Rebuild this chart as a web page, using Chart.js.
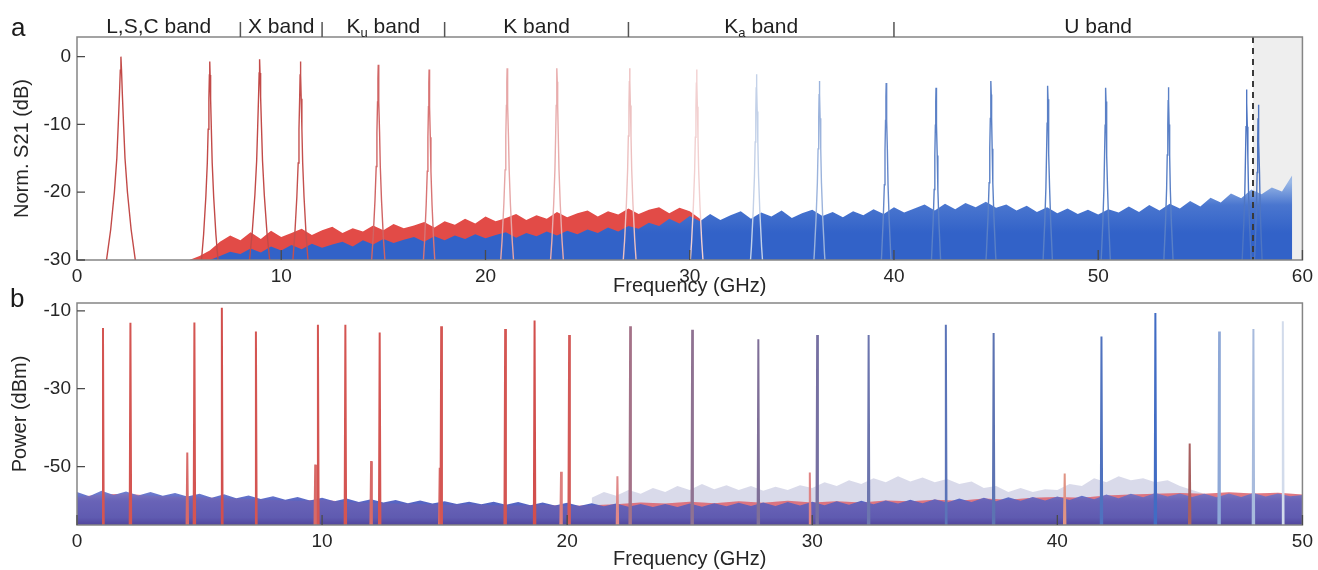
<!DOCTYPE html>
<html lang="en">
<head>
<meta charset="UTF-8">
<title>Norm. S21 and output power spectra</title>
<script src="https://cdn.jsdelivr.net/npm/chart.js"></script>
<style>
  body { margin: 0; background: #fff; }
  .wrap { position: relative; width: 1318px; height: 570px; overflow: hidden; }
  canvas { position: absolute; left: 0; }
  #chartA { top: 0; }
  #chartB { top: 280px; }
</style>
</head>
<body>
<div class="wrap">
  <canvas id="chartA" width="1318" height="300"></canvas>
  <canvas id="chartB" width="1318" height="290"></canvas>
</div>
<script>
// ---------- panel a : Norm. S21 (dB) ----------
const s21XTicks = [0, 10, 20, 30, 40, 50, 60];
const s21YTicks = [-30, -20, -10, 0];

// resonance peaks (GHz, dB at top, relative width)
const s21PeakFreq = [2.15, 6.50, 8.94, 10.94, 14.75, 17.24, 21.06, 23.5, 27.06, 30.34,
                     33.27, 36.35, 39.62, 42.06, 44.75, 47.53, 50.37, 53.44, 57.27, 57.84];
const s21PeakTop = [0, -0.7, -0.4, -0.7, -1.2, -1.9, -1.7, -1.7, -1.7, -1.9,
                    -2.6, -3.6, -3.9, -4.6, -3.6, -4.3, -4.6, -4.5, -4.85, -7.1];
const s21PeakWidth = [1, 0.6, 0.72, 0.55, 0.5, 0.45, 0.5, 0.5, 0.5, 0.5,
                      0.5, 0.5, 0.45, 0.45, 0.45, 0.45, 0.45, 0.45, 0.45, 0.45];
const s21PeakColor = ['#c24a48', '#c24a48', '#c24a48', '#c4504e', '#d06464', '#d87474', '#e6a6a6', '#e8acac',
                      '#edc0c0', '#f2d0d0', '#c3d1e8', '#9bb3dc', '#6587c9', '#5a80c6', '#5a80c6', '#5a80c6',
                      '#5a80c6', '#5a80c6', '#4f76c2', '#4f76c2'];
const peakOffset = [-0.75, -0.5, -0.32, -0.2, -0.13, -0.07, -0.03, 0, 0.03, 0.07, 0.13, 0.2, 0.32, 0.5, 0.75];
const peakDrop = [-31, -25.5, -20, -15, -10, -5.5, -2, 0, -2, -5.5, -10, -15, -20, -25.5, -31];

// noise floors, 0.5 GHz apart
const noiseStep = 0.5;
const redNoiseStart = 5.5;
const redNoise = [-30.0, -29.4, -28.6, -27.3, -26.4, -27.1, -25.9, -26.9, -25.7, -26.6,
                  -26.0, -25.4, -26.3, -25.6, -25.1, -26.0, -25.3, -25.8, -24.9, -25.6,
                  -24.7, -25.3, -24.9, -24.4, -25.2, -24.3, -24.8, -23.9, -24.6, -23.6,
                  -24.3, -23.8, -23.2, -24.1, -23.4, -23.9, -22.9, -23.7, -23.1, -22.7,
                  -23.6, -22.8, -23.3, -22.4, -23.2, -22.6, -22.2, -23.1, -22.3, -22.8,
                  -23.9, -27.0];
const blueNoiseStart = 6.5;
const blueNoise = [-30.0, -29.4, -28.8, -29.1, -28.3, -28.9, -28.0, -28.6, -27.8, -28.4,
                   -27.6, -28.2, -27.7, -27.3, -28.0, -27.1, -27.7, -26.9, -27.5, -27.0,
                   -26.6, -27.3, -26.5, -27.1, -26.4, -26.9, -26.2, -26.8, -26.3, -25.9,
                   -26.7, -26.0, -26.5, -25.8, -26.4, -25.7, -26.2, -25.5, -26.0, -25.2,
                   -25.8, -25.0, -25.4, -24.5, -25.0, -23.9, -24.6, -23.5, -24.3, -23.2,
                   -24.1, -23.4, -22.8, -23.9, -23.0, -23.6, -22.7, -23.8, -23.1, -22.6,
                   -23.5, -22.9, -23.7, -22.8, -23.4, -22.5, -23.2, -22.2, -23.0, -22.4,
                   -21.8, -22.7, -21.7, -22.5, -21.6, -22.2, -21.4, -22.3, -21.8, -22.7,
                   -22.0, -22.9, -22.2, -23.1, -22.4, -23.2, -22.6, -23.3, -22.5, -23.0,
                   -22.1, -22.9, -21.9, -22.7, -21.7, -22.4, -21.3, -22.1, -20.8, -21.5,
                   -20.2, -20.9, -19.6, -20.3, -19.3, -19.9, -17.5];

// microwave bands above panel a
const bandEdges = [8, 12, 18, 27, 40];
const bandCenter = [4, 10, 15, 22.5, 33.5, 50];
const bandMain = ['L,S,C', 'X', 'K', 'K', 'K', 'U'];
const bandSub = ['', '', 'u', '', 'a', ''];
const cutoffFreq = 57.58;

// ---------- panel b : Power (dBm) ----------
const pwrXTicks = [0, 10, 20, 30, 40, 50];
const pwrYTicks = [-50, -30, -10];

const pwrLineFreq = [1.06, 2.18, 4.5, 4.79, 5.91, 7.3, 9.72, 9.83, 10.95, 12.0, 12.35, 14.8, 14.86,
                     17.47, 18.67, 19.75, 20.08, 22.05, 22.57, 25.1, 27.8, 29.9, 30.2, 32.3, 35.45,
                     37.4, 40.3, 41.8, 44.0, 45.4, 46.6, 48.0, 49.2];
const pwrLineTop = [-14.4, -13.1, -46.4, -13.0, -9.2, -15.3, -49.5, -13.6, -13.6, -48.6, -15.6, -50.3, -14.0,
                    -14.7, -12.5, -51.3, -16.2, -52.5, -14.0, -14.9, -17.3, -51.5, -16.2, -16.2, -13.6,
                    -15.7, -51.8, -16.6, -10.6, -44.1, -15.3, -14.7, -12.7];
const pwrLineColor = ['#d45552', '#d45552', '#d86a68', '#d45552', '#d24f4d', '#d45552', '#d86a68', '#d45552',
                      '#d45552', '#d86a68', '#d45552', '#d86a68', '#d45552', '#d45552', '#d24f4d', '#de7f7e',
                      '#d45a58', '#e08888', '#a47288', '#8f7292', '#7f6f98', '#e08484', '#7670a2', '#6c75ae',
                      '#5b74b8', '#5c73b2', '#e09484', '#4f72bf', '#416cc4', '#a86060', '#8ea8d7', '#a8bbdd',
                      '#d2dbeb'];
const spikeOffset = [-0.03, 0, 0.03];

const floorStart = 0;
const floorBlue = [-56.5, -57.6, -56.2, -57.3, -56.4, -57.4, -56.5, -57.5, -56.8, -57.7,
                   -57.0, -58.0, -57.1, -58.1, -57.4, -58.3, -57.6, -58.5, -57.8, -58.7,
                   -58.0, -58.9, -58.2, -59.1, -58.4, -59.2, -58.6, -59.4, -58.7, -59.5,
                   -58.9, -59.6, -59.0, -59.7, -59.0, -59.8, -59.1, -59.9, -59.2, -60.0,
                   -59.3, -60.1, -59.4, -60.2, -59.5, -60.3, -59.6, -60.4, -59.6, -60.4,
                   -59.5, -60.3, -59.4, -60.2, -59.3, -60.1, -59.2, -60.1, -59.1, -60.0,
                   -59.0, -59.9, -58.9, -59.8, -58.8, -59.7, -58.7, -59.5, -58.5, -59.4,
                   -58.4, -59.2, -58.2, -59.1, -58.0, -58.9, -57.9, -58.8, -57.8, -58.7,
                   -57.7, -58.6, -57.5, -58.4, -57.2, -58.1, -57.0, -57.9, -56.8, -57.7,
                   -56.9, -57.8, -57.0, -57.9, -56.9, -57.8, -56.8, -57.7, -56.9, -57.6,
                   -57.3];
const floorRedStep = 1;
const floorRed = [-57.8, -57.2, -57.0, -57.5, -57.7, -57.9, -58.1, -58.3, -58.6, -58.8,
                  -58.5, -59.1, -59.3, -59.5, -59.6, -59.8, -59.7, -59.9, -60.0, -59.8,
                  -60.1, -59.9, -59.7, -59.2, -59.5, -59.0, -59.4, -58.9, -59.3, -58.8,
                  -59.2, -58.9, -59.2, -58.7, -58.9, -58.5, -58.8, -58.2, -58.5, -58.0,
                  -57.8, -58.0, -57.4, -57.2, -57.0, -56.8, -57.0, -56.6, -56.9, -56.7,
                  -57.2];
const greyStart = 21;
const greyNoise = [-58.0, -56.5, -57.5, -56.0, -57.0, -55.5, -56.5, -55.0, -56.0, -54.5,
                   -55.8, -54.8, -56.0, -55.0, -56.2, -55.2, -56.0, -54.8, -55.5, -54.0,
                   -55.0, -53.5, -54.5, -53.0, -54.0, -52.5, -53.8, -52.8, -54.0, -53.2,
                   -54.5, -53.8, -55.5, -55.0, -56.5, -55.5, -56.5, -55.8, -56.0, -54.5,
                   -55.0, -53.0, -54.0, -52.5, -53.5, -53.0, -54.0, -53.5, -55.0, -56.0,
                   -57.0, -57.5, -58.0];

// ---------- helpers ----------
Chart.defaults.font.family = "'Liberation Sans', Arial, sans-serif";
Chart.defaults.color = '#262626';
const FONT = "'Liberation Sans', Arial, sans-serif";

function series(start, step, vals) {
  return vals.map((v, i) => ({ x: start + i * step, y: v }));
}

function layer(data, fillColor, extra) {
  return Object.assign({
    data: data, borderWidth: 0, borderColor: 'transparent', backgroundColor: fillColor,
    fill: 'start', pointRadius: 0, tension: 0
  }, extra || {});
}

function withOrder(list) {
  list.forEach((d, i) => { d.order = list.length - i; });
  return list;
}

function axisX(min, max, ticks, h, titlePad) {
  return {
    type: 'linear', min: min, max: max,
    grid: { display: false, drawTicks: false }, border: { display: false },
    ticks: { font: { size: 19 }, padding: 5, maxRotation: 0, autoSkip: false },
    afterBuildTicks: s => { s.ticks = ticks.map(v => ({ value: v })); },
    afterFit: s => { s.height = h; },
    title: { display: true, text: 'Frequency (GHz)', font: { size: 20 }, padding: { top: 0, bottom: titlePad } }
  };
}

function axisY(min, max, ticks, text, titlePad) {
  return {
    min: min, max: max,
    grid: { display: false, drawTicks: false }, border: { display: false },
    ticks: { font: { size: 19 }, padding: 6 },
    afterBuildTicks: s => { s.ticks = ticks.map(v => ({ value: v })); },
    afterFit: s => { s.width = 77; },
    title: { display: true, text: text, font: { size: 20 }, padding: { top: titlePad, bottom: 0 } }
  };
}

// box and inward ticks
const frame = {
  id: 'frame',
  afterDraw(chart) {
    const { ctx, chartArea: a, scales: { x, y } } = chart;
    ctx.save();
    ctx.strokeStyle = '#858585';
    ctx.lineWidth = 1.5;
    ctx.strokeRect(a.left, a.top, a.right - a.left, a.bottom - a.top);
    ctx.strokeStyle = '#4a4a4a';
    ctx.lineWidth = 1.3;
    ctx.beginPath();
    x.ticks.forEach(t => {
      const px = x.getPixelForValue(t.value);
      ctx.moveTo(px, a.bottom); ctx.lineTo(px, a.bottom - 10);
    });
    y.ticks.forEach(t => {
      const py = y.getPixelForValue(t.value);
      ctx.moveTo(a.left, py); ctx.lineTo(a.left + 8, py);
    });
    ctx.stroke();
    ctx.restore();
  }
};

function panelLetter(letter, px, py) {
  return {
    id: 'letter' + letter,
    afterDraw(chart) {
      const ctx = chart.ctx;
      ctx.save();
      ctx.font = '26px ' + FONT;
      ctx.fillStyle = '#1a1a1a';
      ctx.textBaseline = 'alphabetic';
      ctx.fillText(letter, px, py);
      ctx.restore();
    }
  };
}

// grey region above cutoff and dashed cutoff line
const cutoff = {
  id: 'cutoff',
  beforeDatasetsDraw(chart) {
    const { ctx, chartArea: a, scales: { x } } = chart;
    const px = x.getPixelForValue(cutoffFreq);
    ctx.save();
    ctx.fillStyle = '#eeeeee';
    ctx.fillRect(px, a.top, a.right - px, a.bottom - a.top);
    ctx.restore();
  },
  afterDatasetsDraw(chart) {
    const { ctx, chartArea: a, scales: { x } } = chart;
    const px = x.getPixelForValue(cutoffFreq);
    ctx.save();
    ctx.strokeStyle = '#3a3a3a';
    ctx.lineWidth = 2;
    ctx.setLineDash([6, 5]);
    ctx.beginPath();
    ctx.moveTo(px, a.top); ctx.lineTo(px, a.bottom);
    ctx.stroke();
    ctx.restore();
  }
};

// band names above panel a
const bands = {
  id: 'bands',
  afterDraw(chart) {
    const { ctx, chartArea: a, scales: { x } } = chart;
    ctx.save();
    ctx.strokeStyle = '#555';
    ctx.lineWidth = 1.5;
    ctx.beginPath();
    bandEdges.forEach(f => {
      const px = x.getPixelForValue(f);
      ctx.moveTo(px, a.top); ctx.lineTo(px, a.top - 15);
    });
    ctx.stroke();
    ctx.fillStyle = '#1f1f1f';
    ctx.textBaseline = 'alphabetic';
    const big = '21px ' + FONT, small = '13px ' + FONT;
    bandCenter.forEach((f, i) => {
      ctx.font = big;
      const wMain = ctx.measureText(bandMain[i]).width;
      const wRest = ctx.measureText(' band').width;
      ctx.font = small;
      const wSub = bandSub[i] ? ctx.measureText(bandSub[i]).width : 0;
      let px = x.getPixelForValue(f) - (wMain + wSub + wRest) / 2;
      const base = 33;
      ctx.font = big;
      ctx.fillText(bandMain[i], px, base);
      px += wMain;
      if (bandSub[i]) {
        ctx.font = small;
        ctx.fillText(bandSub[i], px, base + 4);
        px += wSub;
      }
      ctx.font = big;
      ctx.fillText(' band', px, base);
    });
    ctx.restore();
  }
};

// ---------- panel a chart ----------
function blueFill(ctx) {
  const { chart } = ctx;
  if (!chart.chartArea) return '#3463c9';
  const y = chart.scales.y;
  const g = chart.ctx.createLinearGradient(0, y.getPixelForValue(-18.5), 0, y.getPixelForValue(-26));
  g.addColorStop(0, '#9ab8e6');
  g.addColorStop(0.45, '#4a76cf');
  g.addColorStop(1, '#3262c8');
  return g;
}

const dsA = [];
dsA.push(layer(series(redNoiseStart, noiseStep, redNoise), '#e24b47'));
dsA.push(layer(series(blueNoiseStart, noiseStep, blueNoise), blueFill));
s21PeakFreq.forEach((f, i) => {
  dsA.push({
    data: peakOffset.map((d, k) => ({ x: f + d * s21PeakWidth[i], y: s21PeakTop[i] + peakDrop[k] })),
    borderColor: s21PeakColor[i], borderWidth: 1.4, pointRadius: 0, fill: false, tension: 0
  });
});

new Chart(document.getElementById('chartA'), {
  type: 'line',
  data: { datasets: withOrder(dsA) },
  options: {
    responsive: false, animation: false, devicePixelRatio: 1,
    parsing: false, normalized: true,
    layout: { padding: { left: 0, right: 13, top: 37, bottom: 0 } },
    plugins: { legend: { display: false }, tooltip: { enabled: false } },
    scales: {
      x: axisX(0, 60, s21XTicks, 40, 2),
      y: axisY(-30, 2.9, s21YTicks, 'Norm. S21 (dB)', 10)
    }
  },
  plugins: [cutoff, frame, bands, panelLetter('a', 11, 36)]
});

// ---------- panel b chart ----------
function floorFill(ctx) {
  const { chart } = ctx;
  if (!chart.chartArea) return '#5563c0';
  const y = chart.scales.y;
  const g = chart.ctx.createLinearGradient(0, y.getPixelForValue(-55.5), 0, y.getPixelForValue(-65));
  g.addColorStop(0, '#7d8ad6');
  g.addColorStop(0.35, '#5766c4');
  g.addColorStop(0.8, '#4c5cbc');
  g.addColorStop(1, '#3a42a4');
  return g;
}

const dsB = [];
dsB.push(layer(series(greyStart, noiseStep, greyNoise), 'rgba(210,212,230,0.85)'));
dsB.push(layer(series(floorStart, floorRedStep, floorRed), 'rgba(226,104,112,0.85)'));
dsB.push(layer(series(floorStart, noiseStep, floorBlue), floorFill));
dsB.push(layer(series(floorStart, floorRedStep, floorRed), 'rgba(200,90,120,0.16)'));
pwrLineFreq.forEach((f, i) => {
  dsB.push({
    data: spikeOffset.map((d, k) => ({ x: f + d, y: k === 1 ? pwrLineTop[i] : -65 })),
    borderColor: pwrLineColor[i], borderWidth: 2, pointRadius: 0, fill: false, tension: 0
  });
});

new Chart(document.getElementById('chartB'), {
  type: 'line',
  data: { datasets: withOrder(dsB) },
  options: {
    responsive: false, animation: false, devicePixelRatio: 1,
    parsing: false, normalized: true,
    layout: { padding: { left: 0, right: 13, top: 23, bottom: 0 } },
    plugins: { legend: { display: false }, tooltip: { enabled: false } },
    scales: {
      x: axisX(0, 50, pwrXTicks, 45, -1),
      y: axisY(-65, -8, pwrYTicks, 'Power (dBm)', 8)
    }
  },
  plugins: [frame, panelLetter('b', 10, 27)]
});
</script>
</body>
</html>
